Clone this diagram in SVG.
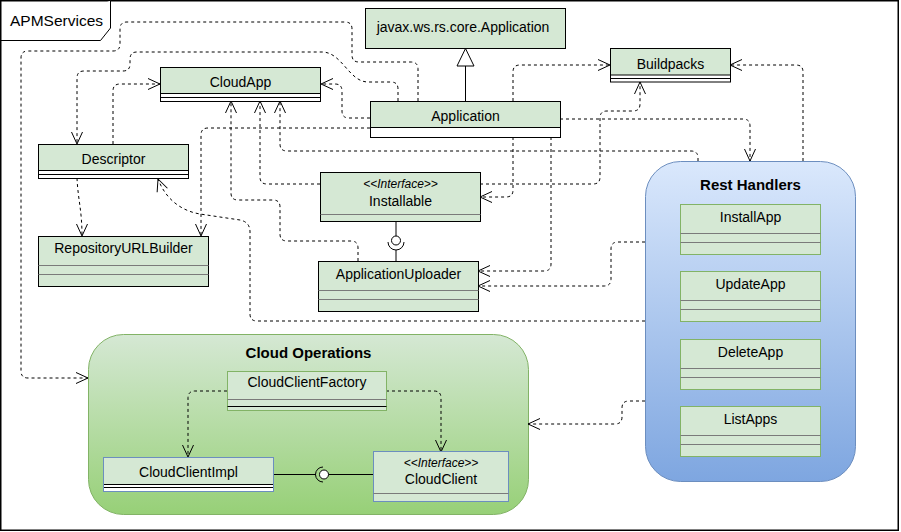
<svg xmlns="http://www.w3.org/2000/svg" width="901" height="532" viewBox="0 0 901 532">
<defs>
<linearGradient id="gBlue" x1="0" y1="0" x2="0" y2="1"><stop offset="0" stop-color="#dae8fc"/><stop offset="1" stop-color="#7ea6e0"/></linearGradient>
<linearGradient id="gGreen" x1="0" y1="0" x2="0" y2="1"><stop offset="0" stop-color="#d5e8d4"/><stop offset="1" stop-color="#97d077"/></linearGradient>
<marker id="open" markerUnits="userSpaceOnUse" markerWidth="16" markerHeight="14" refX="13" refY="7" orient="auto" overflow="visible">
<path d="M1,1.5 L13,7 L1,12.5" fill="none" stroke="#000" stroke-width="1" stroke-dasharray="none"/>
</marker>
</defs>
<style>
text{font-family:"Liberation Sans",Arial,Helvetica,sans-serif;fill:#000}
.t{font-size:14px;text-anchor:middle}
.st{font-size:12px;font-style:italic;text-anchor:middle}
.h{font-size:15px;font-weight:bold;text-anchor:middle}
.conn path{fill:none;stroke:#000;stroke-width:1;stroke-dasharray:3 3;marker-end:url(#open)}
.gb{fill:#d5e8d4;stroke:#000;stroke-width:1}
.wb{fill:#fff;stroke:#000;stroke-width:1}
.gg{fill:#d5e8d4;stroke:#82b366;stroke-width:1}
.ln{stroke:#000;stroke-width:1;fill:none}
.gl{stroke:#7a7a7a;stroke-width:1;fill:none}
.solid{stroke:#000;stroke-width:1;fill:none}
</style>
<rect x="0.75" y="0.75" width="897.5" height="529.5" fill="#fff" stroke="#000" stroke-width="1.5"/>
<g id="frame-tab">
<path d="M0.75,40.5 H100.5 L110.5,28 V0.75" fill="#fff" stroke="#000" stroke-width="1"/>
<text x="10" y="26" style="font-size:15.5px">APMServices</text>
</g>

<g id="rest-handlers">
<rect x="645.5" y="161.5" width="210" height="320" rx="35" ry="35" fill="url(#gBlue)" stroke="#6c8ebf" stroke-width="1"/>
<text class="h" x="750.5" y="189.5">Rest Handlers</text>
</g>
<g id="cloud-operations">
<rect x="88.5" y="334.5" width="440" height="180" rx="35" ry="35" fill="url(#gGreen)" stroke="#82b366" stroke-width="1"/>
<text class="h" x="308.5" y="358">Cloud Operations</text>
</g>

<g id="connectors" class="conn">
<path d="M418,101 V69 Q418,62 411,62 H359 Q352,62 352,55 V29 Q352,22 345,22 H127 Q120,22 120,29 V44 Q120,51 113,51 H28 Q21,51 21,58 V371 Q21,378 28,378 H88"/>
<path d="M398,101 V89 Q398,82 391,82 H368 C349,82 342,52 322,52 H137 Q130,52 130,59 V64 Q130,71 123,71 H84 Q77,71 77,78 V144"/>
<path d="M370,118 H349 Q342,118 342,111 V91 Q342,84 335,84 H321"/>
<path d="M370,128 H208 Q201,128 201,135 V236"/>
<path d="M698,161 V158 Q698,151 691,151 H287 Q280,151 280,144 V101"/>
<path d="M560,119 H743 Q750,119 750,126 V161"/>
<path d="M513,101 V72 Q513,65 520,65 H610"/>
<path d="M480,184 H593 Q600,184 600,177 V118 Q600,111 607,111 H633 Q640,111 640,104 V82"/>
<path d="M513,137 V190 Q513,197 506,197 H480"/>
<path d="M551,137 V264 Q551,271 544,271 H478"/>
<path d="M645,242 H618 Q611,242 611,249 V279 Q611,286 604,286 H478"/>
<path d="M645,321 H257 Q250,321 250,314 V232 Q250,222 240,220 L200,214 C182,211 166,200 158,179"/>
<path d="M77,178 C78,200 82,210 82,236"/>
<path d="M113,144 V91 Q113,84 120,84 H160"/>
<path d="M358,261 V248 Q358,241 351,241 H287 Q280,241 280,234 V207 Q280,200 273,200 H238 Q231,200 231,193 V101"/>
<path d="M803,161 V72 Q803,65 796,65 H730"/>
<path d="M645,401 H629 Q622,401 622,408 V417 Q622,424 615,424 H528"/>
<path d="M320,184 H267 Q260,184 260,177 V101"/>
<path d="M227,391 H195 Q188,391 188,398 V457"/>
<path d="M386,391 H434 Q441,391 441,398 V452"/>
<!-- solid relations -->
<path class="solid" style="stroke-dasharray:none;marker-end:none" d="M465.5,101 V66"/>
<path style="stroke-dasharray:none;marker-end:none;fill:#fff" d="M465.5,48.5 L474,66 L457,66 Z"/>
<path style="stroke-dasharray:none;marker-end:none" d="M396,221.5 V236"/>
<path style="stroke-dasharray:none;marker-end:none" d="M388,242 A8,8 0 0,0 404,242"/>
<path style="stroke-dasharray:none;marker-end:none" d="M396,250 V261"/>
<path style="stroke-dasharray:none;marker-end:none" d="M273.5,474.5 H316"/>
<path style="stroke-dasharray:none;marker-end:none" d="M323,467 A7.5,7.5 0 0,0 323,482"/>
<path style="stroke-dasharray:none;marker-end:none" d="M328.5,474.5 H373.5"/>
<circle cx="396" cy="240.5" r="4.5" fill="#fff" stroke="#000" stroke-width="1"/>
<circle cx="324" cy="474.5" r="4.5" fill="#fff" stroke="#000" stroke-width="1"/>
</g>

<g id="javax-application">
<rect class="gb" x="365.5" y="8.5" width="200" height="40"/>
<text class="t" x="463" y="32">javax.ws.rs.core.Application</text>
</g>
<g id="application">
<rect class="wb" x="370.5" y="101.5" width="190" height="36"/>
<rect class="gb" x="370.5" y="101.5" width="190" height="26"/>
<text class="t" x="465.5" y="121">Application</text>
</g>
<g id="cloudapp">
<rect class="wb" x="160.5" y="67.5" width="160" height="34"/>
<rect class="gb" x="160.5" y="67.5" width="160" height="26"/>
<path class="ln" d="M160.5,97.5 H320.5"/>
<text class="t" x="240.5" y="87">CloudApp</text>
</g>
<g id="descriptor">
<rect class="wb" x="38.5" y="144.5" width="150" height="34"/>
<rect class="gb" x="38.5" y="144.5" width="150" height="26"/>
<path class="ln" d="M38.5,174.5 H188.5"/>
<text class="t" x="113.5" y="164">Descriptor</text>
</g>
<g id="buildpacks">
<rect class="wb" x="610.5" y="48.5" width="120" height="33.5"/>
<rect class="gb" x="610.5" y="48.5" width="120" height="26.5"/>
<path class="ln" d="M610.5,78.5 H730.5"/>
<text class="t" x="670.5" y="68.5">Buildpacks</text>
</g>
<g id="repository-url-builder">
<rect class="gb" x="38.5" y="236.5" width="170" height="50"/>
<path class="gl" d="M38.5,265.5 H208.5 M38.5,274.5 H208.5"/>
<text class="t" x="123.5" y="253">RepositoryURLBuilder</text>
</g>
<g id="installable">
<rect class="gb" x="320.5" y="172.5" width="160" height="49"/>
<path class="gl" d="M320.5,214.5 H480.5"/>
<text class="st" x="400.5" y="187.5">&lt;&lt;Interface&gt;&gt;</text>
<text class="t" x="400.5" y="205.5">Installable</text>
</g>
<g id="application-uploader">
<rect class="gb" x="318.5" y="261.5" width="160" height="50"/>
<path class="gl" d="M318.5,290.5 H478.5 M318.5,299.5 H478.5"/>
<text class="t" x="398.5" y="278.5">ApplicationUploader</text>
</g>

<g id="install-app">
<rect class="gg" x="680.5" y="204.5" width="140" height="50"/>
<path class="gl" d="M680.5,233.5 H820.5 M680.5,242.5 H820.5"/>
<text class="t" x="750.5" y="222">InstallApp</text>
</g>
<g id="update-app">
<rect class="gg" x="680.5" y="271.5" width="140" height="50"/>
<path class="gl" d="M680.5,300.5 H820.5 M680.5,309.5 H820.5"/>
<text class="t" x="750.5" y="289">UpdateApp</text>
</g>
<g id="delete-app">
<rect class="gg" x="680.5" y="339.5" width="140" height="50"/>
<path class="gl" d="M680.5,368.5 H820.5 M680.5,377.5 H820.5"/>
<text class="t" x="750.5" y="357">DeleteApp</text>
</g>
<g id="list-apps">
<rect class="gg" x="680.5" y="406.5" width="140" height="50"/>
<path class="gl" d="M680.5,435.5 H820.5 M680.5,444.5 H820.5"/>
<text class="t" x="750.5" y="424">ListApps</text>
</g>

<g id="cloud-client-factory">
<rect class="gg" x="227.5" y="371.5" width="159" height="39"/>
<path class="gl" d="M227.5,399.5 H386.5"/>
<path class="ln" d="M227.5,406.5 H386.5"/>
<text class="t" x="307" y="387">CloudClientFactory</text>
</g>
<g id="cloud-client-impl">
<rect x="103.5" y="457.5" width="170" height="34" fill="#fff"/>
<rect x="103.5" y="457.5" width="170" height="27" fill="#d5e8d4"/>
<path class="ln" d="M103.5,484.5 H273.5 M103.5,487.5 H273.5"/>
<rect x="103.5" y="457.5" width="170" height="34" fill="none" stroke="#6c8ebf" stroke-width="1"/>
<text class="t" x="188.5" y="477">CloudClientImpl</text>
</g>
<g id="cloud-client">
<rect x="373.5" y="451.5" width="135" height="50" fill="#d5e8d4" stroke="#6c8ebf" stroke-width="1"/>
<path class="gl" d="M373.5,493.5 H508.5"/>
<text class="st" x="441" y="466.5">&lt;&lt;Interface&gt;&gt;</text>
<text class="t" x="441" y="484">CloudClient</text>
</g>
</svg>
